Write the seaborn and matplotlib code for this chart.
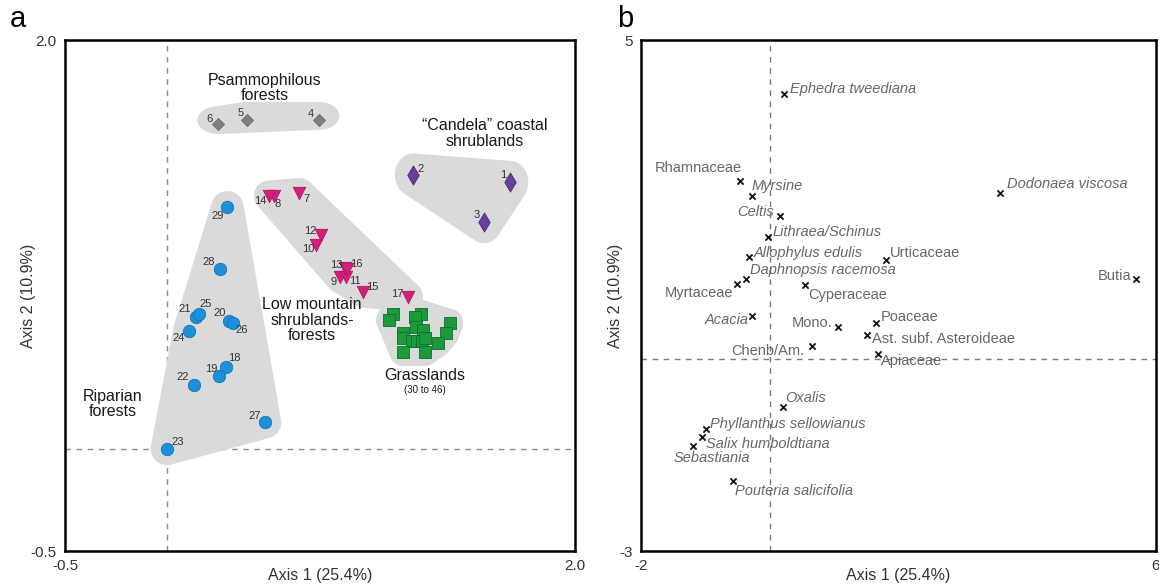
import numpy as np
import pandas as pd
import matplotlib
matplotlib.use("Agg")
import matplotlib.pyplot as plt
import seaborn as sns

# ---------------- data: panel a (site scores) ----------------
psam_ids = ["4", "5", "6"]
psam_x = [0.745, 0.391, 0.249]
psam_y = [1.609, 1.609, 1.588]

cand_ids = ["1", "2", "3"]
cand_x = [1.681, 1.207, 1.554]
cand_y = [1.304, 1.340, 1.111]

low_ids = ["7", "8", "9", "10", "11", "12", "13", "14", "15", "16", "17"]
low_x = [0.649, 0.525, 0.848, 0.730, 0.877, 0.753, 0.873, 0.501, 0.962, 0.884, 1.180]
low_y = [1.250, 1.238, 0.839, 0.997, 0.839, 1.046, 0.883, 1.238, 0.766, 0.880, 0.744]

rip_ids = ["18", "19", "20", "21", "22", "23", "24", "25", "26", "27", "28", "29"]
rip_x = [0.289, 0.256, 0.305, 0.141, 0.132, 0.000, 0.109, 0.157, 0.322, 0.480, 0.260, 0.296]
rip_y = [0.399, 0.357, 0.625, 0.643, 0.312, 0.000, 0.576, 0.658, 0.614, 0.130, 0.878, 1.181]

grass_x = [1.106, 1.090, 1.244, 1.216, 1.221, 1.256, 1.158, 1.158, 1.200,
           1.224, 1.249, 1.265, 1.387, 1.368, 1.330, 1.155, 1.265]
grass_y = [0.659, 0.630, 0.659, 0.643, 0.597, 0.581, 0.565, 0.541, 0.529,
           0.529, 0.529, 0.541, 0.614, 0.565, 0.519, 0.475, 0.475]

# ---------------- data: panel b (taxa scores) ----------------
taxa = ["Ephedra tweediana", "Rhamnaceae", "Myrsine", "Celtis", "Lithraea/Schinus",
        "Allophylus edulis", "Urticaceae", "Daphnopsis racemosa", "Myrtaceae",
        "Cyperaceae", "Acacia", "Mono.", "Poaceae", "Ast. subf. Asteroideae",
        "Chenb/Am.", "Apiaceae", "Oxalis", "Phyllanthus sellowianus",
        "Salix humboldtiana", "Sebastiania", "Pouteria salicifolia",
        "Dodonaea viscosa", "Butia"]
taxa_x = [0.221, -0.463, -0.281, 0.163, -0.023, -0.323, 1.804, -0.370, -0.505,
          0.547, -0.272, 1.064, 1.649, 1.514, 0.651, 1.685, 0.200, -0.995,
          -1.048, -1.197, -0.567, 3.575, 5.686]
taxa_y = [4.155, 2.798, 2.559, 2.246, 1.922, 1.609, 1.557, 1.260, 1.182, 1.166,
          0.681, 0.504, 0.576, 0.383, 0.211, 0.081, -0.739, -1.092, -1.208,
          -1.354, -1.897, 2.610, 1.260]
taxa_italic = [True, False, True, True, True, True, False, True, False, False,
               True, False, False, False, False, False, True, True, True, True,
               True, True, False]

# ---------------- style ----------------
sns.set_style("white")
plt.rcParams["font.family"] = ["Liberation Sans", "DejaVu Sans"]

fig = plt.figure(figsize=(11.59, 5.85), dpi=100)
axa = fig.add_axes([0.0561, 0.0581, 0.4400, 0.8735])
axb = fig.add_axes([0.5531, 0.0581, 0.4443, 0.8735])

BLOB = "#dadada"
TXT = "#333333"


def hull(pts):
    pts = sorted(set(map(tuple, pts)))
    if len(pts) <= 2:
        return pts

    def cross(o, a, b):
        return (a[0] - o[0]) * (b[1] - o[1]) - (a[1] - o[1]) * (b[0] - o[0])

    lower, upper = [], []
    for p in pts:
        while len(lower) >= 2 and cross(lower[-2], lower[-1], p) <= 0:
            lower.pop()
        lower.append(p)
    for p in reversed(pts):
        while len(upper) >= 2 and cross(upper[-2], upper[-1], p) <= 0:
            upper.pop()
        upper.append(p)
    return lower[:-1] + upper[:-1]


def blob(ax, xs, ys, rx, ry, dy=0.0):
    t = np.linspace(0, 2 * np.pi, 60, endpoint=False)
    pts = []
    for x, y in zip(xs, ys):
        for a in t:
            pts.append((x + rx * np.cos(a), y + dy + ry * np.sin(a)))
    h = np.array(hull(np.array(pts)))
    ax.fill(h[:, 0], h[:, 1], color=BLOB, zorder=1, lw=0)


# ---------------- panel a ----------------
axa.axvline(0, color="#8a8a8a", lw=1.0, ls=(0, (4, 4)), zorder=0.5)
axa.axhline(0, color="#8a8a8a", lw=1.0, ls=(0, (4, 4)), zorder=0.5)

blob(axa, psam_x, psam_y, 0.10, 0.068, dy=0.02)
blob(axa, cand_x, cand_y, 0.09, 0.105, dy=0.0)
blob(axa, low_x, low_y, 0.075, 0.075)
blob(axa, rip_x, rip_y, 0.08, 0.08)
blob(axa, grass_x, grass_y, 0.065, 0.07)

groups = [
    (psam_x, psam_y, "D", "#7f7f7f", "#6a6a6a", 38),
    (cand_x, cand_y, "d", "#6a3d9a", "#4f2a78", 95),
    (low_x, low_y, "v", "#d4207c", "#b01565", 80),
    (rip_x, rip_y, "o", "#1c90d8", "#1675b3", 80),
    (grass_x, grass_y, "s", "#1b9a3c", "#0d6e28", 72),
]
for gx, gy, mk, fc, ec, s in groups:
    sns.scatterplot(x=gx, y=gy, marker=mk, color=fc, edgecolor=ec,
                    linewidth=0.6, s=s, ax=axa, zorder=3, legend=False)

num_offsets = {
    "4": (-8, 6), "5": (-6, 7), "6": (-8, 5),
    "1": (-7, 7), "2": (7, 6), "3": (-7, 7),
    "7": (7, -6), "8": (4, -8), "9": (-6, -5), "10": (-8, -4), "11": (9, -4),
    "12": (-10, 4), "13": (-9, 3), "14": (-9, -5), "15": (9, 5), "16": (9, 5),
    "17": (-10, 3),
    "18": (8, 9), "19": (-8, 7), "20": (-10, 8), "21": (-11, 8), "22": (-11, 8),
    "23": (11, 7), "24": (-11, -7), "25": (7, 10), "26": (9, -7), "27": (-10, 6),
    "28": (-11, 7), "29": (-10, -9),
}
for ids, xs, ys in [(psam_ids, psam_x, psam_y), (cand_ids, cand_x, cand_y),
                    (low_ids, low_x, low_y), (rip_ids, rip_x, rip_y)]:
    for i, x, y in zip(ids, xs, ys):
        dx, dy = num_offsets[i]
        axa.annotate(i, (x, y), xytext=(dx, dy), textcoords="offset pixels",
                     ha="center", va="center", fontsize=8, color=TXT, zorder=4)

lab_kw = dict(ha="center", va="center", fontsize=11.5, color="#1a1a1a",
              linespacing=1.05, zorder=4)
axa.text(0.480, 1.765, "Psammophilous\nforests", **lab_kw)
axa.text(1.559, 1.543, "\u201cCandela\u201d coastal\nshrublands", **lab_kw)
axa.text(0.711, 0.630, "Low mountain\nshrublands-\nforests", **lab_kw)
axa.text(-0.265, 0.219, "Riparian\nforests", **lab_kw)
axa.text(1.265, 0.361, "Grasslands", **lab_kw)
axa.text(1.265, 0.288, "(30 to 46)", ha="center", va="center", fontsize=7,
         color="#1a1a1a", zorder=4)

axa.set_xlim(-0.5, 2.0)
axa.set_ylim(-0.5, 2.0)
axa.set_xticks(np.arange(-0.5, 2.01, 0.5))
axa.set_xticklabels(["-0.5", "", "", "", "", "2.0"])
axa.set_yticks(np.arange(-0.5, 2.01, 0.5))
axa.set_yticklabels(["-0.5", "", "", "", "", "2.0"])
axa.set_xlabel("Axis 1 (25.4%)", fontsize=11.5, color=TXT)
axa.set_ylabel("Axis 2 (10.9%)", fontsize=11.5, color=TXT)
axa.xaxis.set_label_coords(0.5, -0.034)
axa.yaxis.set_label_coords(-0.057, 0.5)

# ---------------- panel b ----------------
axb.axvline(0, color="#7a7a7a", lw=1.0, ls=(0, (4, 4)), zorder=0.5)
axb.axhline(0, color="#7a7a7a", lw=1.0, ls=(0, (4, 4)), zorder=0.5)

sns.scatterplot(x=taxa_x, y=taxa_y, marker="x", color="#111111", s=20,
                linewidth=1.3, ax=axb, zorder=3, legend=False)

taxa_offsets = {
    "Ephedra tweediana": (6, 5, "left"),
    "Rhamnaceae": (2, 13, "right"),
    "Myrsine": (0, 10, "left"),
    "Celtis": (-6, 4, "right"),
    "Lithraea/Schinus": (4, 5, "left"),
    "Allophylus edulis": (5, 4, "left"),
    "Urticaceae": (4, 7, "left"),
    "Daphnopsis racemosa": (4, 9, "left"),
    "Myrtaceae": (-4, -9, "right"),
    "Cyperaceae": (3, -10, "left"),
    "Acacia": (-4, -4, "right"),
    "Mono.": (-6, 4, "right"),
    "Poaceae": (5, 6, "left"),
    "Ast. subf. Asteroideae": (5, -4, "left"),
    "Chenb/Am.": (-7, -5, "right"),
    "Apiaceae": (3, -7, "left"),
    "Oxalis": (3, 9, "left"),
    "Phyllanthus sellowianus": (4, 5, "left"),
    "Salix humboldtiana": (4, -7, "left"),
    "Sebastiania": (-19, -12, "left"),
    "Pouteria salicifolia": (2, -10, "left"),
    "Dodonaea viscosa": (7, 9, "left"),
    "Butia": (-4, 3, "right"),
}
for name, x, y, it in zip(taxa, taxa_x, taxa_y, taxa_italic):
    dx, dy, ha = taxa_offsets[name]
    axb.annotate(name, (x, y), xytext=(dx, dy), textcoords="offset pixels",
                 ha=ha, va="center", fontsize=10.5, color="#666666",
                 style="italic" if it else "normal", zorder=4)

axb.set_xlim(-2, 6)
axb.set_ylim(-3, 5)
axb.set_xticks(np.arange(-2, 6.01, 1))
axb.set_xticklabels(["-2"] + [""] * 7 + ["6"])
axb.set_yticks(np.arange(-3, 5.01, 1))
axb.set_yticklabels(["-3"] + [""] * 7 + ["5"])
axb.set_xlabel("Axis 1 (25.4%)", fontsize=11.5, color=TXT)
axb.set_ylabel("Axis 2 (10.9%)", fontsize=11.5, color=TXT)
axb.xaxis.set_label_coords(0.5, -0.034)
axb.yaxis.set_label_coords(-0.035, 0.5)

for ax in (axa, axb):
    for sp in ax.spines.values():
        sp.set_linewidth(1.8)
        sp.set_color("black")
    ax.tick_params(direction="inout", length=10, width=1.5, colors="black",
                   labelcolor=TXT, labelsize=11, pad=1)

fig.text(0.008, 0.953, "a", fontsize=21, color="black")
fig.text(0.532, 0.953, "b", fontsize=21, color="black")

fig.savefig("out.png", dpi=100)
